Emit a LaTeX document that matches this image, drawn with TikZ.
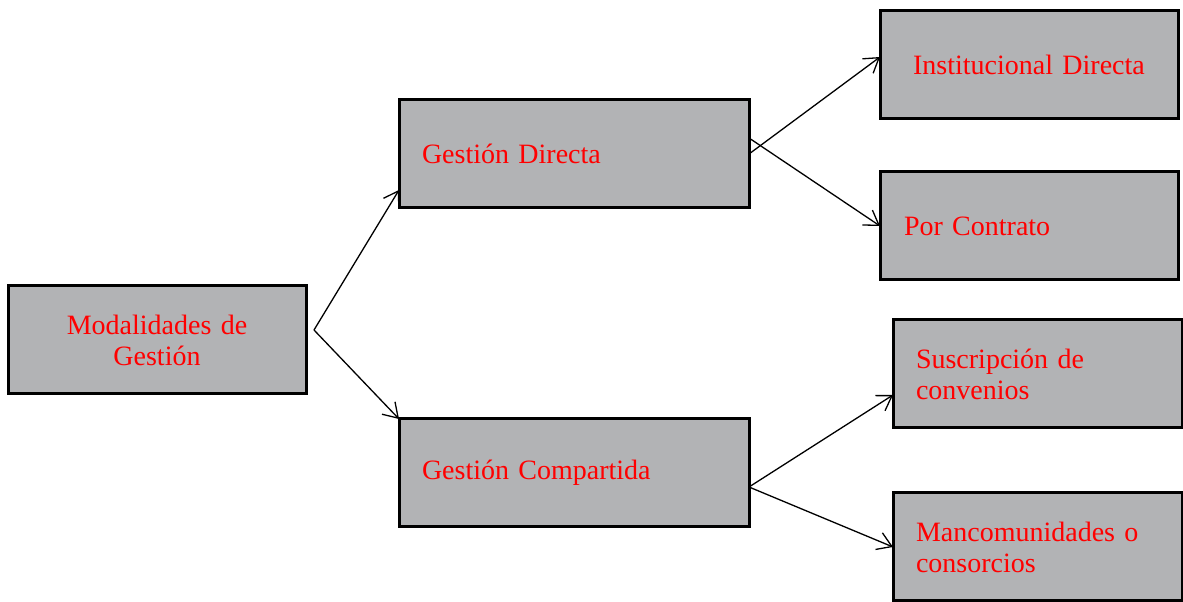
\documentclass[tikz,border=0pt]{standalone}
\usepackage{fontspec}
\setmainfont{Liberation Serif}
\usetikzlibrary{arrows.meta,calc}
\definecolor{boxgray}{RGB}{178,179,181}
\definecolor{txtred}{RGB}{255,0,0}
\tikzset{
  box/.style={draw=black, line width=3pt, fill=boxgray, minimum height=108pt,
    text=txtred, font=\fontsize{28}{31}\selectfont, inner ysep=0pt, outer sep=0pt},
  leftbox/.style={box, inner xsep=23pt, align=left},
  conn/.style={draw=black, line width=1.3pt, -{Straight Barb[length=14pt,width=18pt]}}
}
\begin{document}
\begin{tikzpicture}[x=1pt,y=1pt]
\useasboundingbox (0,0) rectangle (1183,602);
\node[box, inner xsep=0pt, text width=298pt, align=center] (mod) at (157,262) {Modalidades de\\Gestión};
\node[leftbox, text width=304pt] (gd) at (574,448) {Gestión Directa};
\node[leftbox, text width=304pt] (gc) at (574,129) {Gestión Compartida};
\node[box, inner xsep=0pt, text width=298pt, align=center] (inst) at (1029,537) {Institucional Directa};
\node[leftbox, inner xsep=24pt, text width=250pt] (por) at (1029,376) {Por Contrato};
\node[leftbox, text width=243pt] (sus) at (1037.5,228) {Suscripción de\\convenios};
\node[leftbox, text width=243pt] (man) at (1037.5,55) {Mancomunidades o\\consorcios};
\coordinate (modout) at (314,272);
\draw[conn] (modout) -- ($(gd.south west)+(0,18)$);
\draw[conn] (modout) -- (gc.north west);
\draw[conn] (gd.east) -- ($(inst.west)+(0,8)$);
\draw[conn] ($(gd.east)+(0,16)$) -- (por.west);
\draw[conn] ($(gc.east)+(0,-14)$) -- ($(sus.west)+(0,-21)$);
\draw[conn] ($(gc.east)+(0,-14)$) -- (man.west);
\end{tikzpicture}
\end{document}
